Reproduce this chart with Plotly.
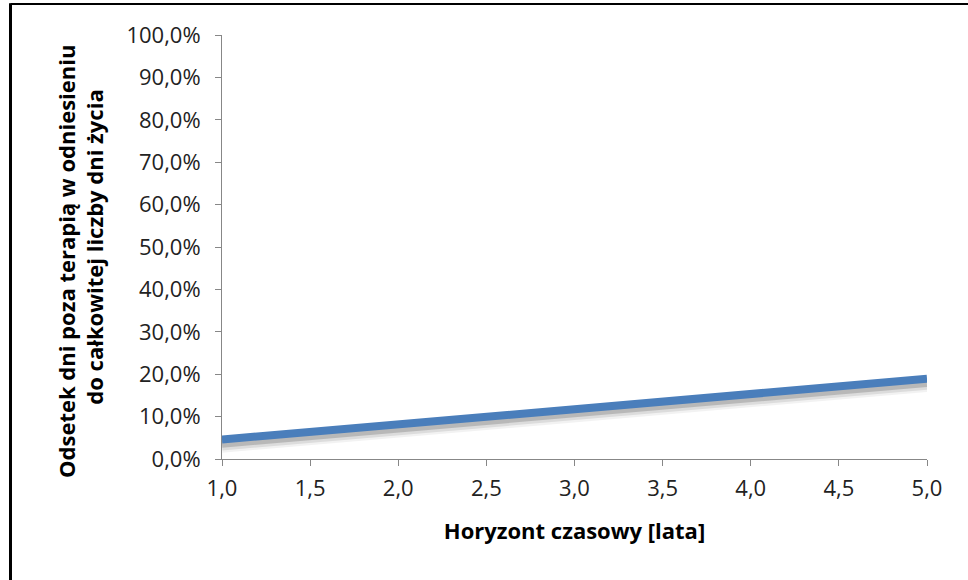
import plotly.graph_objects as go

years = [1.0, 2.0, 3.0, 4.0, 5.0]
share_pct = [4.6, 8.2, 11.8, 15.3, 18.9]

x_ticks = [1.0, 1.5, 2.0, 2.5, 3.0, 3.5, 4.0, 4.5, 5.0]
y_ticks = [0, 10, 20, 30, 40, 50, 60, 70, 80, 90, 100]

x_title = "Horyzont czasowy [lata]"
pad = "\u00a0" * 5
y_title = "Odsetek dni poza terapią w odniesieniu" + pad + "<br>do całkowitej liczby dni życia" + pad

FONT = "Open Sans"

fig = go.Figure()
# soft shadow under the line
for w, a, off in [(12, 0.05, 1.7), (10, 0.09, 1.4), (7, 0.16, 1.1)]:
    fig.add_trace(go.Scatter(
        x=years, y=[v - off for v in share_pct], mode="lines",
        line=dict(color=f"rgba(0,0,0,{a})", width=w),
        hoverinfo="skip", showlegend=False, cliponaxis=False,
    ))
fig.add_trace(go.Scatter(
    x=years, y=share_pct, mode="lines",
    line=dict(color="#4A7EBB", width=8),
    showlegend=False, cliponaxis=False,
))

axis_common = dict(
    showgrid=False, zeroline=False, showline=True,
    linecolor="#878787", linewidth=1,
    ticks="outside", tickcolor="#878787", ticklen=6, tickwidth=1,
    tickfont=dict(family=FONT, size=22, color="#222222"),
    automargin=False,
)

fig.update_xaxes(
    range=[1.0, 5.0], tickvals=x_ticks,
    ticktext=[f"{v:.1f}".replace(".", ",") for v in x_ticks],
    ticklabelstandoff=4,
    title=dict(text=x_title, font=dict(family=FONT, size=22, color="#000000", weight="bold"), standoff=22),
    **axis_common,
)
fig.update_yaxes(
    range=[0, 100], tickvals=y_ticks,
    ticktext=[f"{v:.1f}".replace(".", ",") + "%" for v in y_ticks],
    ticklabelstandoff=10,
    title=dict(text=y_title, font=dict(family=FONT, size=22, color="#000000", weight="bold"), standoff=16),
    **axis_common,
)

# document frame (left and top border)
fig.add_shape(type="line", xref="paper", yref="paper",
              x0=-0.3, x1=-0.3, y0=-0.3, y1=1.075,
              line=dict(color="black", width=3))
fig.add_shape(type="line", xref="paper", yref="paper",
              x0=-0.3, x1=1.07, y0=1.073, y1=1.073,
              line=dict(color="black", width=2))

fig.update_layout(
    width=968, height=580,
    margin=dict(l=222, r=41, t=35, b=121),
    paper_bgcolor="white", plot_bgcolor="white",
    font=dict(family=FONT),
)

fig.write_html("out.html", config={"displayModeBar": False},
               post_script="document.body.style.margin='0';document.body.style.overflow='hidden';")
